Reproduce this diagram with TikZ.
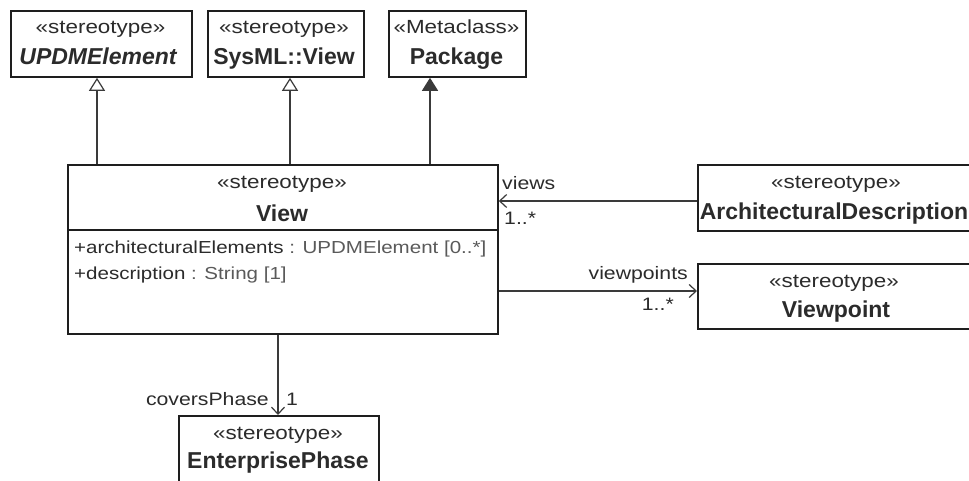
\documentclass[tikz,border=0pt]{standalone}
\usepackage{fontspec}
\setmainfont{Liberation Sans}
\newfontfamily\regfont[FakeStretch=1.18]{Liberation Sans}
\usetikzlibrary{arrows.meta}
\definecolor{txt}{HTML}{2B2B2B}
\definecolor{typ}{HTML}{5A5A5A}
\definecolor{ln}{HTML}{3A3A3A}
\definecolor{bx}{HTML}{1E1E1E}
\tikzset{
  box/.style={draw=bx, line width=1.8pt, fill=white, inner sep=0pt, anchor=north west},
  boxline/.style={draw=bx, line width=1.8pt},
  stereo/.style={font=\regfont\fontsize{19}{21}\selectfont, text=txt, anchor=base, inner sep=0pt},
  cname/.style={font=\bfseries\fontsize{23}{26}\selectfont, text=txt, anchor=base, inner sep=0pt},
  attr/.style={font=\regfont\fontsize{17.4}{20}\selectfont, text=txt, anchor=base west, inner sep=0pt},
  lbl/.style={font=\regfont\fontsize{18}{20}\selectfont, text=txt, inner sep=0pt},
  gen/.style={draw=ln, line width=1.3pt, -{Triangle[open, length=13pt, width=16pt, line width=1.2pt]}},
  genf/.style={draw=ln, line width=1.3pt, -{Triangle[length=13pt, width=16pt, fill=ln]}},
  assoc/.style={draw=ln, line width=1.3pt, -{Straight Barb[length=7pt, width=13pt, line width=1.2pt]}}
}
\begin{document}
\begin{tikzpicture}[x=1pt, y=-1pt]
\useasboundingbox (0,0) rectangle (969,481);
\fill[white] (0,0) rectangle (969,481);

% boxes
\node[box, minimum width=181pt, minimum height=66pt] (upd) at (10,10) {};
\node[box, minimum width=156pt, minimum height=66pt] (sysml) at (207,10) {};
\node[box, minimum width=137pt, minimum height=66pt] (pkg) at (388,10) {};
\node[box, minimum width=430pt, minimum height=169pt] (view) at (67,164) {};
\node[box, minimum width=290pt, minimum height=66pt] (ad) at (697,164) {};
\node[box, minimum width=290pt, minimum height=65pt] (vp) at (697,263) {};
\node[box, minimum width=200pt, minimum height=70pt] (ep) at (178,415) {};

\coordinate (dv) at (0,230);
\draw[boxline] (dv -| view.west) -- (dv -| view.east);

% box texts
\node[stereo] (updS) at (100.5,34) {«stereotype»};
\node[cname, font=\bfseries\itshape\fontsize{23}{26}\selectfont] (updN) at (98,65) {UPDMElement};
\node[stereo] (sysS) at (284,34) {«stereotype»};
\node[cname] (sysN) at (284,65) {SysML::View};
\node[stereo] (pkgS) at (456.5,34) {«Metaclass»};
\node[cname] (pkgN) at (456.5,65) {Package};
\node[stereo] (viewS) at (282,189) {«stereotype»};
\node[cname] (viewN) at (282,222) {View};
\node[attr] (a1) at (74,254) {+architecturalElements \textcolor{typ}{: UPDMElement [0..*]}};
\node[attr] (a2) at (74,279) {+description \textcolor{typ}{: String [1]}};
\node[stereo] (adS) at (836,189) {«stereotype»};
\node[cname] (adN) at (834,220) {ArchitecturalDescription};
\node[stereo] (vpS) at (834,287) {«stereotype»};
\node[cname] (vpN) at (836,317) {Viewpoint};
\node[stereo] (epS) at (278,439) {«stereotype»};
\node[cname] (epN) at (278,468) {EnterprisePhase};

% generalizations
\coordinate (g1) at (97,0);
\coordinate (g2) at (290,0);
\coordinate (g3) at (430,0);
\draw[gen] (view.north -| g1) -- (upd.south -| g1);
\draw[gen] (view.north -| g2) -- (sysml.south -| g2);
\draw[genf] (view.north -| g3) -- (pkg.south -| g3);

% associations
\coordinate (vy) at (0,201);
\coordinate (py) at (0,291);
\coordinate (cx) at (278,0);
\draw[assoc] (ad.west |- vy) -- (view.east |- vy);
\draw[assoc] (view.east |- py) -- (vp.west |- py);
\draw[assoc] (view.south -| cx) -- (ep.north -| cx);

% labels
\node[lbl, anchor=base west] (lviews) at (502,190) {views};
\node[lbl, anchor=base west] (lm1) at (504,225) {1..*};
\node[lbl, anchor=base east] (lvp) at (688,279) {viewpoints};
\node[lbl, anchor=base east] (lm2) at (674,310) {1..*};
\node[lbl, anchor=base east] (lcp) at (269,405) {coversPhase};
\node[lbl, anchor=base west] (lm3) at (286,405) {1};
\end{tikzpicture}
\end{document}
